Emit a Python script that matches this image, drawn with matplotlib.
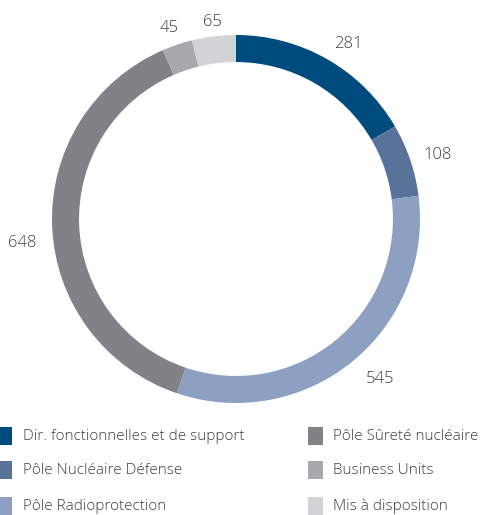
import matplotlib.pyplot as plt
import matplotlib.patches as mpatches
import numpy as np

categories = ['Dir. fonctionnelles et de support', 'Pôle Nucléaire Défense', 'Pôle Radioprotection',
              'Pôle Sûreté nucléaire', 'Business Units', 'Mis à disposition']
values = [281, 108, 545, 648, 45, 65]
colors = ['#004b7d', '#587299', '#8ea0c1', '#808285', '#a7a9ac', '#d1d3d4']
# label placement: radius (in outer radii) and angular nudge (deg) from the wedge middle
label_r = [1.13, 1.15, 1.17, 1.17, 1.10, 1.08]
label_nudge = [-2.7, -1.0, 2.8, 4.1, 0.7, 0.0]

W, H = 484, 515
fig = plt.figure(figsize=(W / 100, H / 100), dpi=100)
plt.rcParams['font.family'] = ['Open Sans', 'DejaVu Sans']

cx, cy, R = 236, 219, 184
ax = fig.add_axes([(cx - R) / W, (H - cy - R) / H, 2 * R / W, 2 * R / H])
wedges, _ = ax.pie(values, colors=colors, startangle=90, counterclock=False,
                   radius=1, wedgeprops=dict(width=0.147, linewidth=0))
ax.set_xlim(-1, 1)
ax.set_ylim(-1, 1)
ax.set_aspect('equal')
ax.axis('off')

# value labels around the ring
total = sum(values)
start = 90.0
for v, r, dn in zip(values, label_r, label_nudge):
    span = 360.0 * v / total
    mid = np.deg2rad(start - span / 2 + dn)
    start -= span
    ax.text(r * np.cos(mid), r * np.sin(mid), str(v), ha='center', va='center',
            fontsize=12, color='#404040', fontweight='light', clip_on=False)

# legend in two columns
rows_y = [436, 470, 506]
for i, (name, c) in enumerate(zip(categories, colors)):
    col, row = divmod(i, 3)
    x0 = -3 if col == 0 else 308
    tx = 23 if col == 0 else 333
    y = rows_y[row]
    fig.patches.append(mpatches.Rectangle((x0 / W, (H - y - 9) / H), 15 / W, 18 / H,
                                          transform=fig.transFigure, color=c, linewidth=0))
    fig.text(tx / W, (H - y) / H, name, ha='left', va='center',
             fontsize=11, color='#404040', fontweight='light')

fig.savefig('out.png', dpi=100)
